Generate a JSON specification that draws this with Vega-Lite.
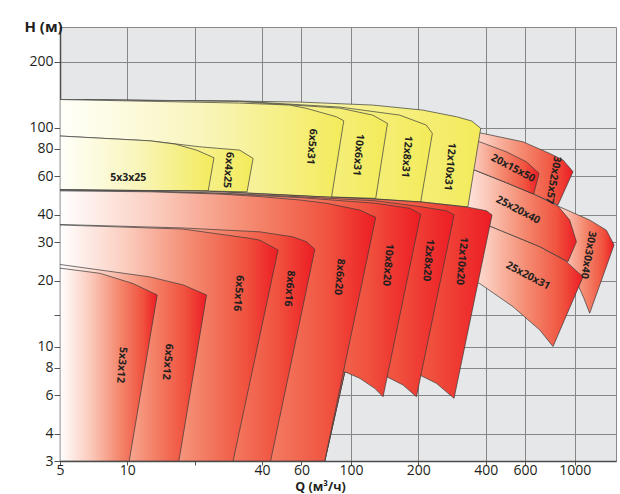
{
  "$schema": "https://vega.github.io/schema/vega-lite/v6.json",
  "width": 556,
  "height": 434,
  "autosize": "none",
  "padding": {"left": 60, "top": 27, "right": 4, "bottom": 33},
  "background": "#ffffff",
  "config": {"view": {"fill": "#e6e7e9", "stroke": "#8a8a8a", "strokeWidth": 1}},
  "datasets": {
    "shapes": [
      {"p":"30x30x40","i":1,"q":698,"h":44.3},{"p":"30x30x40","i":2,"q":842,"h":43.8},{"p":"30x30x40","i":3,"q":1167,"h":37.8},{"p":"30x30x40","i":4,"q":1386,"h":34.0},{"p":"30x30x40","i":5,"q":1500,"h":29.1},{"p":"30x30x40","i":6,"q":1167,"h":14.2},{"p":"30x30x40","i":7,"q":1097,"h":16.7},{"p":"30x30x40","i":8,"q":1035,"h":19.1},{"p":"30x30x40","i":9,"q":857,"h":24.3},{"p":"30x30x40","i":10,"q":698,"h":30.6},{"p":"30x30x40","i":11,"q":698,"h":44.3},
      {"p":"25x20x31","i":1,"q":262,"h":39.5},{"p":"25x20x31","i":2,"q":417,"h":35.5},{"p":"25x20x31","i":3,"q":698,"h":28.6},{"p":"25x20x31","i":4,"q":902,"h":24.8},{"p":"25x20x31","i":5,"q":1089,"h":20.8},{"p":"25x20x31","i":6,"q":800,"h":10.0},{"p":"25x20x31","i":7,"q":698,"h":11.9},{"p":"25x20x31","i":8,"q":530,"h":15.2},{"p":"25x20x31","i":9,"q":376,"h":19.4},{"p":"25x20x31","i":10,"q":262,"h":21.5},{"p":"25x20x31","i":11,"q":262,"h":39.5},
      {"p":"25x20x40","i":1,"q":262,"h":67.5},{"p":"25x20x40","i":2,"q":357,"h":64.0},{"p":"25x20x40","i":3,"q":495,"h":56.0},{"p":"25x20x40","i":4,"q":656,"h":49.7},{"p":"25x20x40","i":5,"q":842,"h":43.8},{"p":"25x20x40","i":6,"q":950,"h":37.8},{"p":"25x20x40","i":7,"q":1018,"h":30.1},{"p":"25x20x40","i":8,"q":933,"h":24.4},{"p":"25x20x40","i":9,"q":698,"h":28.6},{"p":"25x20x40","i":10,"q":417,"h":35.5},{"p":"25x20x40","i":11,"q":262,"h":39.5},{"p":"25x20x40","i":12,"q":262,"h":67.5},
      {"p":"30x25x57","i":1,"q":262,"h":96.5},{"p":"30x25x57","i":2,"q":376,"h":94.7},{"p":"30x25x57","i":3,"q":587,"h":86.1},{"p":"30x25x57","i":4,"q":773,"h":76.2},{"p":"30x25x57","i":5,"q":887,"h":71.1},{"p":"30x25x57","i":6,"q":983,"h":62.9},{"p":"30x25x57","i":7,"q":842,"h":44.3},{"p":"30x25x57","i":8,"q":656,"h":49.7},{"p":"30x25x57","i":9,"q":495,"h":56.0},{"p":"30x25x57","i":10,"q":357,"h":64.0},{"p":"30x25x57","i":11,"q":262,"h":67.5},{"p":"30x25x57","i":12,"q":262,"h":96.5},
      {"p":"20x15x50","i":1,"q":262,"h":89.0},{"p":"20x15x50","i":2,"q":376,"h":86.1},{"p":"20x15x50","i":3,"q":495,"h":77.5},{"p":"20x15x50","i":4,"q":608,"h":69.8},{"p":"20x15x50","i":5,"q":693,"h":61.8},{"p":"20x15x50","i":6,"q":656,"h":49.7},{"p":"20x15x50","i":7,"q":495,"h":56.0},{"p":"20x15x50","i":8,"q":357,"h":64.0},{"p":"20x15x50","i":9,"q":262,"h":67.5},{"p":"20x15x50","i":10,"q":262,"h":89.0},
      {"p":"12x10x31","i":1,"q":5,"h":134.3},{"p":"12x10x31","i":2,"q":31.8,"h":132.1},{"p":"12x10x31","i":3,"q":59,"h":130.8},{"p":"12x10x31","i":4,"q":125,"h":126.7},{"p":"12x10x31","i":5,"q":209,"h":120.2},{"p":"12x10x31","i":6,"q":297,"h":112.0},{"p":"12x10x31","i":7,"q":347,"h":107.1},{"p":"12x10x31","i":8,"q":380,"h":99.2},{"p":"12x10x31","i":9,"q":333,"h":43.4},{"p":"12x10x31","i":10,"q":205,"h":45.8},{"p":"12x10x31","i":11,"q":129,"h":47.2},{"p":"12x10x31","i":12,"q":82,"h":48.2},{"p":"12x10x31","i":13,"q":59,"h":48.9},{"p":"12x10x31","i":14,"q":35.3,"h":50.2},{"p":"12x10x31","i":15,"q":22.9,"h":51.3},{"p":"12x10x31","i":16,"q":12.6,"h":51.6},{"p":"12x10x31","i":17,"q":5,"h":52.1},{"p":"12x10x31","i":18,"q":5,"h":134.3},
      {"p":"12x8x31","i":1,"q":5,"h":134.3},{"p":"12x8x31","i":2,"q":31.8,"h":132.0},{"p":"12x8x31","i":3,"q":89.1,"h":124.1},{"p":"12x8x31","i":4,"q":165,"h":114.0},{"p":"12x8x31","i":5,"q":217,"h":102.7},{"p":"12x8x31","i":6,"q":231,"h":94.1},{"p":"12x8x31","i":7,"q":205,"h":45.8},{"p":"12x8x31","i":8,"q":129,"h":47.2},{"p":"12x8x31","i":9,"q":82,"h":48.2},{"p":"12x8x31","i":10,"q":59,"h":48.9},{"p":"12x8x31","i":11,"q":35.3,"h":50.2},{"p":"12x8x31","i":12,"q":22.9,"h":51.3},{"p":"12x8x31","i":13,"q":12.6,"h":51.6},{"p":"12x8x31","i":14,"q":5,"h":52.1},{"p":"12x8x31","i":15,"q":5,"h":134.3},
      {"p":"10x6x31","i":1,"q":5,"h":134.3},{"p":"10x6x31","i":2,"q":31.8,"h":131.5},{"p":"10x6x31","i":3,"q":89.1,"h":122.7},{"p":"10x6x31","i":4,"q":125,"h":114.0},{"p":"10x6x31","i":5,"q":145.5,"h":104.5},{"p":"10x6x31","i":6,"q":129,"h":47.5},{"p":"10x6x31","i":7,"q":82,"h":48.2},{"p":"10x6x31","i":8,"q":59,"h":48.9},{"p":"10x6x31","i":9,"q":35.3,"h":50.2},{"p":"10x6x31","i":10,"q":22.9,"h":51.3},{"p":"10x6x31","i":11,"q":12.6,"h":51.6},{"p":"10x6x31","i":12,"q":5,"h":52.1},{"p":"10x6x31","i":13,"q":5,"h":134.3},
      {"p":"6x5x31","i":1,"q":5,"h":134.3},{"p":"6x5x31","i":2,"q":31.8,"h":129.4},{"p":"6x5x31","i":3,"q":53.2,"h":126.7},{"p":"6x5x31","i":4,"q":63.2,"h":122.4},{"p":"6x5x31","i":5,"q":86.1,"h":112.0},{"p":"6x5x31","i":6,"q":92.8,"h":107.4},{"p":"6x5x31","i":7,"q":81.8,"h":48.0},{"p":"6x5x31","i":8,"q":59,"h":48.9},{"p":"6x5x31","i":9,"q":35.3,"h":50.2},{"p":"6x5x31","i":10,"q":22.9,"h":51.3},{"p":"6x5x31","i":11,"q":12.6,"h":51.6},{"p":"6x5x31","i":12,"q":5,"h":52.1},{"p":"6x5x31","i":13,"q":5,"h":134.3},
      {"p":"6x4x25","i":1,"q":5,"h":91.5},{"p":"6x4x25","i":2,"q":12.6,"h":87.0},{"p":"6x4x25","i":3,"q":21.1,"h":81.7},{"p":"6x4x25","i":4,"q":31.8,"h":78.9},{"p":"6x4x25","i":5,"q":36.5,"h":72.3},{"p":"6x4x25","i":6,"q":34.3,"h":50.9},{"p":"6x4x25","i":7,"q":22.9,"h":51.3},{"p":"6x4x25","i":8,"q":12.6,"h":51.6},{"p":"6x4x25","i":9,"q":5,"h":52.1},{"p":"6x4x25","i":10,"q":5,"h":91.5},
      {"p":"5x3x25","i":1,"q":5,"h":91.5},{"p":"5x3x25","i":2,"q":12.6,"h":87.0},{"p":"5x3x25","i":3,"q":16.3,"h":84.1},{"p":"5x3x25","i":4,"q":20.4,"h":78.9},{"p":"5x3x25","i":5,"q":24.4,"h":72.8},{"p":"5x3x25","i":6,"q":23.0,"h":51.5},{"p":"5x3x25","i":7,"q":12.6,"h":51.6},{"p":"5x3x25","i":8,"q":5,"h":52.1},{"p":"5x3x25","i":9,"q":5,"h":91.5},
      {"p":"12x10x20","i":1,"q":5,"h":52.0},{"p":"12x10x20","i":2,"q":12.6,"h":51.5},{"p":"12x10x20","i":3,"q":22.9,"h":51.2},{"p":"12x10x20","i":4,"q":35.3,"h":50.1},{"p":"12x10x20","i":5,"q":59,"h":48.8},{"p":"12x10x20","i":6,"q":82,"h":48.1},{"p":"12x10x20","i":7,"q":129,"h":47.1},{"p":"12x10x20","i":8,"q":205,"h":45.7},{"p":"12x10x20","i":9,"q":333,"h":43.3},{"p":"12x10x20","i":10,"q":403,"h":41.7},{"p":"12x10x20","i":11,"q":427,"h":39.9},{"p":"12x10x20","i":12,"q":288.8,"h":5.8},{"p":"12x10x20","i":13,"q":240.9,"h":6.79},{"p":"12x10x20","i":14,"q":202.9,"h":7.41},{"p":"12x10x20","i":15,"q":144.5,"h":7.28},{"p":"12x10x20","i":16,"q":93.8,"h":7.67},{"p":"12x10x20","i":17,"q":76.3,"h":3},{"p":"12x10x20","i":18,"q":5,"h":3},{"p":"12x10x20","i":19,"q":5,"h":52.0},
      {"p":"12x8x20","i":1,"q":5,"h":51.8},{"p":"12x8x20","i":2,"q":12.6,"h":51.2},{"p":"12x8x20","i":3,"q":25.9,"h":50.2},{"p":"12x8x20","i":4,"q":59,"h":48.3},{"p":"12x8x20","i":5,"q":129,"h":46.3},{"p":"12x8x20","i":6,"q":205,"h":43.5},{"p":"12x8x20","i":7,"q":267,"h":41.7},{"p":"12x8x20","i":8,"q":289,"h":39.9},{"p":"12x8x20","i":9,"q":196.1,"h":5.9},{"p":"12x8x20","i":10,"q":170.9,"h":6.67},{"p":"12x8x20","i":11,"q":144.5,"h":7.28},{"p":"12x8x20","i":12,"q":93.8,"h":7.67},{"p":"12x8x20","i":13,"q":76.3,"h":3},{"p":"12x8x20","i":14,"q":5,"h":3},{"p":"12x8x20","i":15,"q":5,"h":51.8},
      {"p":"10x8x20","i":1,"q":5,"h":51.6},{"p":"10x8x20","i":2,"q":12.6,"h":51.0},{"p":"10x8x20","i":3,"q":25.9,"h":50.0},{"p":"10x8x20","i":4,"q":59,"h":47.9},{"p":"10x8x20","i":5,"q":129,"h":45.1},{"p":"10x8x20","i":6,"q":183,"h":42.8},{"p":"10x8x20","i":7,"q":205,"h":40.3},{"p":"10x8x20","i":8,"q":139.1,"h":5.9},{"p":"10x8x20","i":9,"q":127.7,"h":6.44},{"p":"10x8x20","i":10,"q":109.4,"h":7.16},{"p":"10x8x20","i":11,"q":93.8,"h":7.67},{"p":"10x8x20","i":12,"q":76.3,"h":3},{"p":"10x8x20","i":13,"q":5,"h":3},{"p":"10x8x20","i":14,"q":5,"h":51.6},
      {"p":"8x6x20","i":1,"q":5,"h":51.4},{"p":"8x6x20","i":2,"q":12.6,"h":50.9},{"p":"8x6x20","i":3,"q":25.9,"h":49.7},{"p":"8x6x20","i":4,"q":39.1,"h":48.4},{"p":"8x6x20","i":5,"q":59,"h":46.7},{"p":"8x6x20","i":6,"q":77.7,"h":45.1},{"p":"8x6x20","i":7,"q":109.4,"h":42.0},{"p":"8x6x20","i":8,"q":129,"h":38.9},{"p":"8x6x20","i":9,"q":76.3,"h":3},{"p":"8x6x20","i":10,"q":5,"h":3},{"p":"8x6x20","i":11,"q":5,"h":51.4},
      {"p":"8x6x16","i":1,"q":5,"h":36.1},{"p":"8x6x16","i":2,"q":17.7,"h":34.8},{"p":"8x6x16","i":3,"q":39.1,"h":33.4},{"p":"8x6x16","i":4,"q":54.9,"h":31.7},{"p":"8x6x16","i":5,"q":63.2,"h":30.1},{"p":"8x6x16","i":6,"q":68.9,"h":27.8},{"p":"8x6x16","i":7,"q":43.7,"h":3},{"p":"8x6x16","i":8,"q":5,"h":3},{"p":"8x6x16","i":9,"q":5,"h":36.1},
      {"p":"6x5x16","i":1,"q":5,"h":35.9},{"p":"6x5x16","i":2,"q":17.7,"h":34.4},{"p":"6x5x16","i":3,"q":35.3,"h":31.2},{"p":"6x5x16","i":4,"q":39.1,"h":30.6},{"p":"6x5x16","i":5,"q":47.2,"h":27.6},{"p":"6x5x16","i":6,"q":29.7,"h":3},{"p":"6x5x16","i":7,"q":5,"h":3},{"p":"6x5x16","i":8,"q":5,"h":35.9},
      {"p":"6x5x12","i":1,"q":5,"h":23.7},{"p":"6x5x12","i":2,"q":12.6,"h":20.8},{"p":"6x5x12","i":3,"q":17.8,"h":19.1},{"p":"6x5x12","i":4,"q":22.6,"h":17.2},{"p":"6x5x12","i":5,"q":17.0,"h":3},{"p":"6x5x12","i":6,"q":5,"h":3},{"p":"6x5x12","i":7,"q":5,"h":23.7},
      {"p":"5x3x12","i":1,"q":5,"h":22.8},{"p":"5x3x12","i":2,"q":7.54,"h":21.6},{"p":"5x3x12","i":3,"q":10.6,"h":19.4},{"p":"5x3x12","i":4,"q":13.6,"h":17.2},{"p":"5x3x12","i":5,"q":10.2,"h":3},{"p":"5x3x12","i":6,"q":5,"h":3},{"p":"5x3x12","i":7,"q":5,"h":22.8}
    ],
    "labels": [
      {"label":"5x3x25","q":10.1,"h":58.6},
      {"label":"6x4x25","q":28.2,"h":64.0},
      {"label":"6x5x31","q":66.6,"h":81.7},
      {"label":"10x6x31","q":107.5,"h":74.9},
      {"label":"12x8x31","q":177,"h":73.6},
      {"label":"12x10x31","q":276,"h":66.2},
      {"label":"20x15x50","q":530,"h":65.1},
      {"label":"30x25x57","q":800,"h":57.6},
      {"label":"25x20x40","q":558,"h":42.0},
      {"label":"25x20x31","q":618,"h":21.0},
      {"label":"30x30x40","q":1147,"h":26.2},
      {"label":"12x10x20","q":312,"h":24.6},
      {"label":"12x8x20","q":221,"h":24.8},
      {"label":"10x8x20","q":146,"h":23.6},
      {"label":"8x6x20","q":88.5,"h":20.8},
      {"label":"8x6x16","q":52.9,"h":18.4},
      {"label":"6x5x16","q":31.3,"h":17.5},
      {"label":"5x3x12","q":9.42,"h":8.23},
      {"label":"6x5x12","q":15.1,"h":8.52}
    ]
  },
  "encoding": {
    "x": {"field": "q", "type": "quantitative",
      "scale": {"type": "log", "domain": [5, 1530], "nice": false},
      "axis": {"title": "Q (м³/ч)", "values": [5,10,20,40,60,100,200,400,600,1000], "format": "d",
        "labelExpr": "datum.value == 20 ? '' : datum.label",
        "grid": true, "gridColor": "#868686", "gridWidth": 1,
        "tickSize": 4, "tickColor": "#555555", "domainColor": "#4d4d4d", "domainWidth": 1.5,
        "labelFont": "Open Sans", "labelFontSize": 14, "labelColor": "#231f20", "labelBaseline": "alphabetic", "labelPadding": 9, "labelFlush": false, "labelOverlap": false,
        "titleFont": "Open Sans", "titleFontSize": 12.5, "titleFontWeight": "bold", "titleColor": "#231f20",
        "titleX": 260, "titleY": 29, "titleBaseline": "alphabetic", "titleAlign": "center"}},
    "y": {"field": "h", "type": "quantitative",
      "scale": {"type": "log", "domain": [3, 288], "nice": false},
      "axis": {"title": "H (м)", "values": [3,4,6,8,10,14,20,30,40,60,80,100,200], "format": "d",
        "labelExpr": "datum.value == 14 ? '' : datum.label",
        "grid": true, "gridColor": "#868686", "gridWidth": 1,
        "tickSize": 6, "tickColor": "#555555", "domainColor": "#4d4d4d", "domainWidth": 1.5,
        "labelFont": "Open Sans", "labelFontSize": 14, "labelColor": "#231f20", "labelPadding": 1, "labelFlush": false, "labelOverlap": false,
        "titleFont": "Open Sans", "titleFontSize": 15, "titleFontWeight": "bold", "titleColor": "#231f20",
        "titleAngle": 0, "titleX": -36, "titleY": 4, "titleAlign": "left", "titleBaseline": "alphabetic"}}
  },
  "layer": [
    {"data": {"name": "shapes"}, "transform": [{"filter": "datum.p === '30x30x40'"}], "mark": {"type": "line", "clip": true, "stroke": "#3a3a3a", "strokeWidth": 0.7, "fill": {"gradient": "linear", "x1": 0, "y1": 0, "x2": 1, "y2": 0, "stops": [{"offset": 0, "color": "#ffffff"}, {"offset": 0.3, "color": "#fbcdbf"}, {"offset": 0.6, "color": "#f48a70"}, {"offset": 0.85, "color": "#f0533f"}, {"offset": 1, "color": "#ed1c24"}]}}, "encoding": {"order": {"field": "i", "type": "quantitative"}}},
    {"data": {"name": "shapes"}, "transform": [{"filter": "datum.p === '25x20x31'"}], "mark": {"type": "line", "clip": true, "stroke": "#3a3a3a", "strokeWidth": 0.7, "fill": {"gradient": "linear", "x1": 0, "y1": 0, "x2": 1, "y2": 0, "stops": [{"offset": 0, "color": "#ffffff"}, {"offset": 0.3, "color": "#fbcdbf"}, {"offset": 0.6, "color": "#f48a70"}, {"offset": 0.85, "color": "#f0533f"}, {"offset": 1, "color": "#ed1c24"}]}}, "encoding": {"order": {"field": "i", "type": "quantitative"}}},
    {"data": {"name": "shapes"}, "transform": [{"filter": "datum.p === '25x20x40'"}], "mark": {"type": "line", "clip": true, "stroke": "#3a3a3a", "strokeWidth": 0.7, "fill": {"gradient": "linear", "x1": 0, "y1": 0, "x2": 1, "y2": 0, "stops": [{"offset": 0, "color": "#ffffff"}, {"offset": 0.3, "color": "#fbcdbf"}, {"offset": 0.6, "color": "#f48a70"}, {"offset": 0.85, "color": "#f0533f"}, {"offset": 1, "color": "#ed1c24"}]}}, "encoding": {"order": {"field": "i", "type": "quantitative"}}},
    {"data": {"name": "shapes"}, "transform": [{"filter": "datum.p === '30x25x57'"}], "mark": {"type": "line", "clip": true, "stroke": "#3a3a3a", "strokeWidth": 0.7, "fill": {"gradient": "linear", "x1": 0, "y1": 0, "x2": 1, "y2": 0, "stops": [{"offset": 0, "color": "#ffffff"}, {"offset": 0.3, "color": "#fbcdbf"}, {"offset": 0.6, "color": "#f48a70"}, {"offset": 0.85, "color": "#f0533f"}, {"offset": 1, "color": "#ed1c24"}]}}, "encoding": {"order": {"field": "i", "type": "quantitative"}}},
    {"data": {"name": "shapes"}, "transform": [{"filter": "datum.p === '20x15x50'"}], "mark": {"type": "line", "clip": true, "stroke": "#3a3a3a", "strokeWidth": 0.7, "fill": {"gradient": "linear", "x1": 0, "y1": 0, "x2": 1, "y2": 0, "stops": [{"offset": 0, "color": "#ffffff"}, {"offset": 0.3, "color": "#fbcdbf"}, {"offset": 0.6, "color": "#f48a70"}, {"offset": 0.85, "color": "#f0533f"}, {"offset": 1, "color": "#ed1c24"}]}}, "encoding": {"order": {"field": "i", "type": "quantitative"}}},
    {"data": {"name": "shapes"}, "transform": [{"filter": "datum.p === '12x10x31'"}], "mark": {"type": "line", "clip": true, "stroke": "#3a3a3a", "strokeWidth": 0.7, "fill": {"gradient": "linear", "x1": 0, "y1": 0, "x2": 1, "y2": 0, "stops": [{"offset": 0, "color": "#fffffa"}, {"offset": 0.5, "color": "#f9f5bc"}, {"offset": 1, "color": "#f3eb5a"}]}}, "encoding": {"order": {"field": "i", "type": "quantitative"}}},
    {"data": {"name": "shapes"}, "transform": [{"filter": "datum.p === '12x8x31'"}], "mark": {"type": "line", "clip": true, "stroke": "#3a3a3a", "strokeWidth": 0.7, "fill": {"gradient": "linear", "x1": 0, "y1": 0, "x2": 1, "y2": 0, "stops": [{"offset": 0, "color": "#fffffa"}, {"offset": 0.5, "color": "#f9f5bc"}, {"offset": 1, "color": "#f3eb5a"}]}}, "encoding": {"order": {"field": "i", "type": "quantitative"}}},
    {"data": {"name": "shapes"}, "transform": [{"filter": "datum.p === '10x6x31'"}], "mark": {"type": "line", "clip": true, "stroke": "#3a3a3a", "strokeWidth": 0.7, "fill": {"gradient": "linear", "x1": 0, "y1": 0, "x2": 1, "y2": 0, "stops": [{"offset": 0, "color": "#fffffa"}, {"offset": 0.5, "color": "#f9f5bc"}, {"offset": 1, "color": "#f3eb5a"}]}}, "encoding": {"order": {"field": "i", "type": "quantitative"}}},
    {"data": {"name": "shapes"}, "transform": [{"filter": "datum.p === '6x5x31'"}], "mark": {"type": "line", "clip": true, "stroke": "#3a3a3a", "strokeWidth": 0.7, "fill": {"gradient": "linear", "x1": 0, "y1": 0, "x2": 1, "y2": 0, "stops": [{"offset": 0, "color": "#fffffa"}, {"offset": 0.5, "color": "#f9f5bc"}, {"offset": 1, "color": "#f3eb5a"}]}}, "encoding": {"order": {"field": "i", "type": "quantitative"}}},
    {"data": {"name": "shapes"}, "transform": [{"filter": "datum.p === '6x4x25'"}], "mark": {"type": "line", "clip": true, "stroke": "#3a3a3a", "strokeWidth": 0.7, "fill": {"gradient": "linear", "x1": 0, "y1": 0, "x2": 1, "y2": 0, "stops": [{"offset": 0, "color": "#fffffa"}, {"offset": 0.5, "color": "#f9f5bc"}, {"offset": 1, "color": "#f3eb5a"}]}}, "encoding": {"order": {"field": "i", "type": "quantitative"}}},
    {"data": {"name": "shapes"}, "transform": [{"filter": "datum.p === '5x3x25'"}], "mark": {"type": "line", "clip": true, "stroke": "#3a3a3a", "strokeWidth": 0.7, "fill": {"gradient": "linear", "x1": 0, "y1": 0, "x2": 1, "y2": 0, "stops": [{"offset": 0, "color": "#fffffa"}, {"offset": 0.5, "color": "#f9f5bc"}, {"offset": 1, "color": "#f3eb5a"}]}}, "encoding": {"order": {"field": "i", "type": "quantitative"}}},
    {"data": {"name": "shapes"}, "transform": [{"filter": "datum.p === '12x10x20'"}], "mark": {"type": "line", "clip": true, "stroke": "#3a3a3a", "strokeWidth": 0.7, "fill": {"gradient": "linear", "x1": 0, "y1": 0, "x2": 1, "y2": 0, "stops": [{"offset": 0, "color": "#ffffff"}, {"offset": 0.3, "color": "#fbcdbf"}, {"offset": 0.6, "color": "#f48a70"}, {"offset": 0.85, "color": "#f0533f"}, {"offset": 1, "color": "#ed1c24"}]}}, "encoding": {"order": {"field": "i", "type": "quantitative"}}},
    {"data": {"name": "shapes"}, "transform": [{"filter": "datum.p === '12x8x20'"}], "mark": {"type": "line", "clip": true, "stroke": "#3a3a3a", "strokeWidth": 0.7, "fill": {"gradient": "linear", "x1": 0, "y1": 0, "x2": 1, "y2": 0, "stops": [{"offset": 0, "color": "#ffffff"}, {"offset": 0.3, "color": "#fbcdbf"}, {"offset": 0.6, "color": "#f48a70"}, {"offset": 0.85, "color": "#f0533f"}, {"offset": 1, "color": "#ed1c24"}]}}, "encoding": {"order": {"field": "i", "type": "quantitative"}}},
    {"data": {"name": "shapes"}, "transform": [{"filter": "datum.p === '10x8x20'"}], "mark": {"type": "line", "clip": true, "stroke": "#3a3a3a", "strokeWidth": 0.7, "fill": {"gradient": "linear", "x1": 0, "y1": 0, "x2": 1, "y2": 0, "stops": [{"offset": 0, "color": "#ffffff"}, {"offset": 0.3, "color": "#fbcdbf"}, {"offset": 0.6, "color": "#f48a70"}, {"offset": 0.85, "color": "#f0533f"}, {"offset": 1, "color": "#ed1c24"}]}}, "encoding": {"order": {"field": "i", "type": "quantitative"}}},
    {"data": {"name": "shapes"}, "transform": [{"filter": "datum.p === '8x6x20'"}], "mark": {"type": "line", "clip": true, "stroke": "#3a3a3a", "strokeWidth": 0.7, "fill": {"gradient": "linear", "x1": 0, "y1": 0, "x2": 1, "y2": 0, "stops": [{"offset": 0, "color": "#ffffff"}, {"offset": 0.3, "color": "#fbcdbf"}, {"offset": 0.6, "color": "#f48a70"}, {"offset": 0.85, "color": "#f0533f"}, {"offset": 1, "color": "#ed1c24"}]}}, "encoding": {"order": {"field": "i", "type": "quantitative"}}},
    {"data": {"name": "shapes"}, "transform": [{"filter": "datum.p === '8x6x16'"}], "mark": {"type": "line", "clip": true, "stroke": "#3a3a3a", "strokeWidth": 0.7, "fill": {"gradient": "linear", "x1": 0, "y1": 0, "x2": 1, "y2": 0, "stops": [{"offset": 0, "color": "#ffffff"}, {"offset": 0.3, "color": "#fbcdbf"}, {"offset": 0.6, "color": "#f48a70"}, {"offset": 0.85, "color": "#f0533f"}, {"offset": 1, "color": "#ed1c24"}]}}, "encoding": {"order": {"field": "i", "type": "quantitative"}}},
    {"data": {"name": "shapes"}, "transform": [{"filter": "datum.p === '6x5x16'"}], "mark": {"type": "line", "clip": true, "stroke": "#3a3a3a", "strokeWidth": 0.7, "fill": {"gradient": "linear", "x1": 0, "y1": 0, "x2": 1, "y2": 0, "stops": [{"offset": 0, "color": "#ffffff"}, {"offset": 0.3, "color": "#fbcdbf"}, {"offset": 0.6, "color": "#f48a70"}, {"offset": 0.85, "color": "#f0533f"}, {"offset": 1, "color": "#ed1c24"}]}}, "encoding": {"order": {"field": "i", "type": "quantitative"}}},
    {"data": {"name": "shapes"}, "transform": [{"filter": "datum.p === '6x5x12'"}], "mark": {"type": "line", "clip": true, "stroke": "#3a3a3a", "strokeWidth": 0.7, "fill": {"gradient": "linear", "x1": 0, "y1": 0, "x2": 1, "y2": 0, "stops": [{"offset": 0, "color": "#ffffff"}, {"offset": 0.3, "color": "#fbcdbf"}, {"offset": 0.6, "color": "#f48a70"}, {"offset": 0.85, "color": "#f0533f"}, {"offset": 1, "color": "#ed1c24"}]}}, "encoding": {"order": {"field": "i", "type": "quantitative"}}},
    {"data": {"name": "shapes"}, "transform": [{"filter": "datum.p === '5x3x12'"}], "mark": {"type": "line", "clip": true, "stroke": "#3a3a3a", "strokeWidth": 0.7, "fill": {"gradient": "linear", "x1": 0, "y1": 0, "x2": 1, "y2": 0, "stops": [{"offset": 0, "color": "#ffffff"}, {"offset": 0.3, "color": "#fbcdbf"}, {"offset": 0.6, "color": "#f48a70"}, {"offset": 0.85, "color": "#f0533f"}, {"offset": 1, "color": "#ed1c24"}]}}, "encoding": {"order": {"field": "i", "type": "quantitative"}}},
    {"data": {"name": "labels"}, "transform": [{"filter": "datum.label === '5x3x25'"}], "mark": {"type": "text", "angle": 0, "font": "Open Sans", "fontSize": 10.5, "fontWeight": "bold", "color": "#231f20"}, "encoding": {"text": {"field": "label"}}},
    {"data": {"name": "labels"}, "transform": [{"filter": "indexof(['6x4x25','6x5x31','10x6x31','12x8x31','12x10x31','12x10x20','12x8x20','10x8x20','8x6x20','8x6x16','6x5x16','5x3x12','6x5x12'], datum.label) >= 0"}], "mark": {"type": "text", "angle": 95, "font": "Open Sans", "fontSize": 10.5, "fontWeight": "bold", "color": "#231f20"}, "encoding": {"text": {"field": "label"}}},
    {"data": {"name": "labels"}, "transform": [{"filter": "indexof(['20x15x50','25x20x40','25x20x31'], datum.label) >= 0"}], "mark": {"type": "text", "angle": 28, "font": "Open Sans", "fontSize": 10.5, "fontWeight": "bold", "color": "#231f20"}, "encoding": {"text": {"field": "label"}}},
    {"data": {"name": "labels"}, "transform": [{"filter": "indexof(['30x25x57','30x30x40'], datum.label) >= 0"}], "mark": {"type": "text", "angle": 100, "font": "Open Sans", "fontSize": 10.5, "fontWeight": "bold", "color": "#231f20"}, "encoding": {"text": {"field": "label"}}}
  ]
}
